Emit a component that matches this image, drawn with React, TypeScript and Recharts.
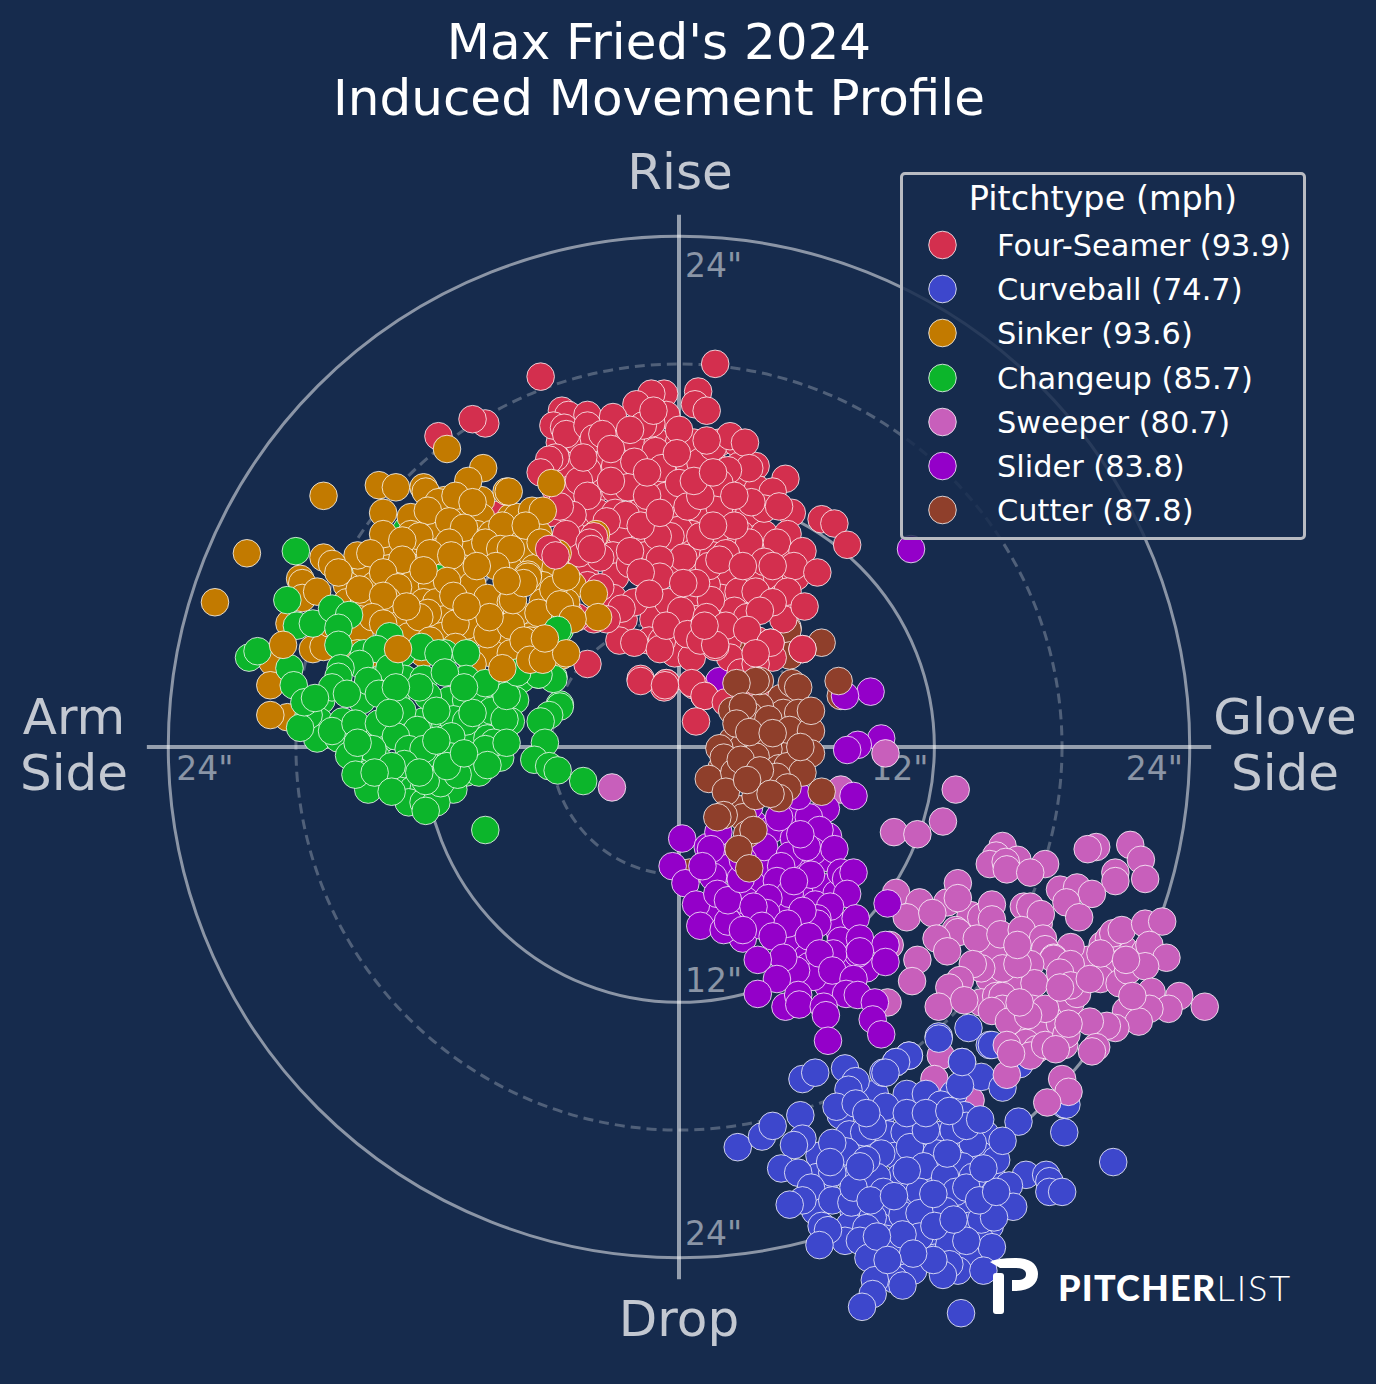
import {
  ScatterChart,
  Scatter,
  XAxis,
  YAxis,
  ReferenceDot,
  ReferenceLine,
} from 'recharts';

type Pitch = [number, number];

const fourSeamerDense: Pitch[] = [
  [-5.6, 14.3], [-4.7, 14.3], [-3.9, 14.3], [-2.8, 14.3], [-2, 14.3], [-1, 14.3], [0, 14.3], [0.7, 14.3], [1.9, 14.3], [2.7, 14.3],
  [-5.2, 13.2], [-4, 13.2], [-3, 13.2], [-1.8, 13.2], [-0.4, 13.2], [0.5, 13.2], [1.7, 13.2], [2.8, 13.2], [3.6, 13.2],
  [-5.8, 12.1], [-5.1, 12.1], [-3.9, 12.1], [-3, 12.1], [-2, 12.1], [-1, 12.1], [0.6, 12.1], [1.4, 12.1], [2.8, 12.1], [3.7, 12.1],
  [-6, 11], [-4.6, 11], [-3.8, 11], [-3, 11], [-1.9, 11], [-0.2, 11], [0.8, 11], [2.8, 11], [3.3, 11], [5.3, 11],
  [-5, 10], [-3.2, 10], [-2.7, 10], [-1.6, 10], [0.6, 10], [2, 10], [2.9, 10], [4, 10], [5.1, 10],
  [-4.8, 9], [-3.1, 9], [-1.6, 9], [0.8, 9], [1.6, 9], [2.9, 9], [3.6, 9], [5, 9],
  [-4.4, 8], [-3, 8], [-1.5, 8], [0, 8], [0.9, 8], [2.3, 8], [3.4, 8], [4.6, 8], [5.5, 8],
  [-5.4, 7], [-3.1, 7], [-1.6, 7], [-1, 7], [0.7, 7], [2, 7], [3.2, 7], [4.8, 7],
  [-4, 6], [-2.6, 6], [-1.2, 6], [0.8, 6], [2, 6], [2.9, 6], [4.9, 6],
  [-2.8, 5], [-1.4, 5], [0.2, 5], [0.9, 5], [2.3, 5], [3.7, 5],
  [-0.2, 4.4], [0.6, 4.2], [2.4, 4.2], [2.9, 3.5],
];

const fourSeamer: Pitch[] = [
  [-6.5, 17.4], [1.7, 18.0], [0.9, 16.7], [0.75, 16.1], [1.3, 15.8], [-0.7, 16.6], [-1.3, 16.6], [-2.0, 16.1],
  [-0.6, 15.6], [-1.3, 15.2], [-1.7, 15.1], [0, 14.9], [-1.2, 15.8], [-5.5, 15.8], [-5.2, 15.6], [-4.3, 15.6],
  [-5.9, 15.1], [-5.4, 15.0], [-5.3, 14.7], [-4.3, 15.1], [-3.1, 15.5], [-4.0, 14.5], [-3.6, 14.7], [-3.2, 14.0],
  [-2.3, 14.9], [-1.1, 13.9], [-2.1, 13.4], [-5.8, 13.6], [-6.1, 13.5], [-6.5, 12.9], [-4.3, 13.0], [-4.7, 12.5],
  [-2.4, 12.2], [-0.8, 13.1], [1.0, 13.4], [1.6, 14.1], [2.4, 14.6], [3.1, 14.3], [1.3, 14.4], [3.3, 13.1],
  [2.3, 13.0], [5.0, 12.6], [4.4, 12.0], [4.0, 11.2], [4.7, 11.3], [3.4, 11.5], [1.9, 11.3], [1.9, 12.4],
  [-0.6, 11.8], [0, 12.4], [-2.5, 10.9], [-3.4, 10.6], [-4.3, 11.8], [-5, 10.9], [6.7, 10.7], [7.3, 10.5],
  [7.9, 9.5], [0, 10.2], [-0.4, 9.9], [-1.0, 9.9], [1.0, 9.9], [3.3, 9.6], [4.6, 9.6], [2.2, 9.1],
  [4.0, 8.7], [5.8, 9.2], [5.4, 8.5], [6.5, 8.2], [-2.3, 8.6], [-2.3, 9.2], [0.2, 8.9], [-0.9, 8.8],
  [-0.9, 8.0], [-2.1, 6.8], [-2.7, 6.5], [-4.3, 7.6], [-3.7, 7.5], [-5.1, 7.7], [-4.8, 6.1], [-3.4, 6.0],
  [-0.5, 6.8], [0.1, 6.4], [1.3, 7.6], [2.8, 7.3], [3.6, 7.3], [1.4, 8.5], [5.1, 7.3], [5.9, 6.6],
  [1.2, 5.7], [2.6, 6.4], [1.5, 6.9], [1.7, 4.7], [-0.8, 5.0], [-2.1, 4.9], [-0.9, 4.6], [4.3, 4.9],
  [5.8, 4.6], [4.4, 4.2], [3.6, 3.9], [-4.3, 3.9], [-1.8, 3.2], [-0.6, 3.0], [0.7, 2.9], [1.2, 2.4],
  [-0.7, 2.8], [-1.5, 11.8], [-1.8, 10.4], [-0.9, 11], [0.4, 11.3], [1, 11.8], [2.6, 11.8], [2.6, 10.4],
  [1.6, 10.4], [1.9, 8.8], [3, 8.5], [4.4, 8.5], [0.8, 7.7], [0.2, 7.7], [-1.8, 8.2], [-1.4, 7.2],
  [1.3, 6.1], [3.2, 6.1], [4.4, 6.8], [3.8, 6.4], [2.2, 5.7], [-0.6, 5.7], [0.4, 5.3], [3.2, 5.5],
  [1, 5], [-3.7, 8.9], [-4.7, 9.1], [-5.3, 10], [-5.6, 11.3], [-4.5, 13.6], [-3.2, 12.5], [-1.5, 12.9],
  [-0.1, 13.8], [0.7, 12.5], [1.6, 12.9], [-8.6, 10.9], [-11.3, 14.6], [-9.1, 15.2], [-9.7, 15.4],
  [-5.2, 6.3], [4.3, 4.9], [1.7, 4.8], [1.2, 5.7], [3.6, 4.4], [5.8, 4.6], [-0.6, 3], [0.6, 3], [1.2, 2.4],
  [0.8, 1.2], [2.2, 2.1], [3.6, 2.4], [-1.8, 3.1], [-0.66, 2.9],
];

const fourSeamerTop: Pitch[] = [[-4, 9.9], [-4.2, 9.6], [-4.1, 9.3], [-6.1, 9.3], [-5.8, 9.0]];

const curveballDense: Pitch[] = [
  [9.2, -16.3], [10.7, -16.3], [12.9, -16.3],
  [7.6, -17.3], [9.5, -17.3], [11.2, -17.3], [13.4, -17.3],
  [8, -18.2], [9.8, -18.2], [11.4, -18.2], [12.4, -18.2], [14.4, -18.2],
  [6.6, -19.2], [8.7, -19.2], [10.2, -19.2], [11.2, -19.2], [13, -19.2], [14.2, -19.2],
  [6.5, -20.2], [8, -20.2], [10.4, -20.2], [11.8, -20.2], [12.8, -20.2], [14.7, -20.2],
  [6.9, -21], [8.7, -21], [10.9, -21], [12.4, -21], [15, -21],
  [6.4, -21.8], [8.2, -21.8], [9.8, -21.8], [11.9, -21.8], [13.4, -21.8],
  [8, -22.5], [9.4, -22.5], [11, -22.5], [13.6, -22.5], [14.6, -22.5],
  [7.8, -23.2], [10.4, -23.2], [12, -23.2], [14.2, -23.2],
  [9.5, -24], [10.8, -24], [12, -24], [13.6, -24],
  [9.6, -24.6], [11, -24.6], [13.1, -24.6],
];

const curveball: Pitch[] = [
  [2.76, -18.8], [3.9, -18.3], [4.4, -17.8], [5.7, -17.3], [5.8, -15.6], [6.4, -15.3], [7.8, -15.1], [8.3, -15.7],
  [7.96, -16.1], [7.4, -16.9], [8.3, -16.75], [9.7, -16.9], [10.2, -14.8], [10.8, -14.5], [9.6, -15.3], [11.6, -16.3],
  [12.2, -13.6], [13.6, -13.2], [12.3, -16.8], [13.3, -14.8], [14.2, -15.5], [13.2, -15.9], [15.2, -16], [14.6, -14],
  [15.95, -17.6], [18.1, -18.1], [18.1, -16.8], [20.4, -19.5], [16.3, -20.1], [17.25, -20.1], [17.4, -20.4], [17.4, -20.9],
  [18, -20.9], [15.5, -20.6], [15.7, -21.6], [14.9, -19.4], [15.2, -18.5], [13.8, -18.6], [12.9, -18], [13.5, -17.8],
  [14.15, -17.5], [10.6, -18.1], [8.7, -18.1], [9.1, -17.8], [9.5, -19.1], [10.85, -18.8], [12.1, -19.1], [11.5, -19.7],
  [13.3, -19.7], [7.85, -19], [7.2, -18.6], [5.8, -18.4], [5.4, -18.7], [4.8, -19.8], [5.6, -20], [7.2, -20],
  [6.2, -20.7], [5.8, -21.3], [5.2, -21.5], [7.2, -21.3], [8.1, -21.4], [9.3, -20.2], [9.6, -20.9], [11.3, -20.9],
  [12.5, -20.2], [13, -20.9], [13.8, -20.2], [13.5, -20.7], [12.5, -21.8], [14.2, -22.2], [14.8, -22.1], [10.5, -22],
  [11.3, -21.9], [9.1, -22.1], [8.8, -22.6], [9.7, -23.1], [10.3, -23.7], [11.3, -23], [12.6, -22.6], [12.7, -23.4],
  [12.7, -24.3], [14.7, -23.5], [14.3, -24.6], [13.5, -23.2], [12.4, -24.8], [6.7, -22.5], [7, -22.7], [6.6, -23.4],
  [8.5, -23.2], [8.9, -24], [10.1, -25], [10.5, -25.3], [9.2, -25.05], [9.1, -25.7], [8.6, -26.3], [13.25, -26.6],
  [12, -22.5], [10.5, -22.9], [9.3, -23], [10.7, -19.9], [12.6, -19.1], [11.6, -18], [8.8, -19.4], [8.2, -20.7],
  [11.95, -24.1], [11, -23.8], [9.8, -24.1], [9, -21.3], [10.1, -21.1], [11.95, -21], [14.1, -21.3], [12.9, -22.2],
  [14.9, -20.9], [14.3, -19.8], [10.7, -17.2], [11.6, -17.2], [12.7, -17.1], [8.8, -17.2], [7.1, -19.5], [8.5, -19.7],
  [12.2, -13.7], [14.7, -14], [13.3, -14.8], [10.8, -14.5], [10.2, -14.8], [9.7, -15.3], [16, -14.9], [18.2, -16.8],
];

const sinkerDense: Pitch[] = [
  [-11, 11.6], [-10.6, 11.6], [-9.3, 11.6],
  [-12.6, 10.8], [-11, 10.8], [-10.2, 10.8], [-9.3, 10.8], [-7.9, 10.8], [-7.6, 10.8],
  [-12.6, 10], [-11.4, 10], [-9.5, 10], [-8.8, 10], [-7.9, 10], [-6.6, 10],
  [-14, 9.2], [-12.3, 9.2], [-11.2, 9.2], [-9.8, 9.2], [-7.2, 9.2], [-6.2, 9.2],
  [-14.7, 8.4], [-13.6, 8.4], [-12.4, 8.4], [-10.2, 8.4], [-8, 8.4], [-6.8, 8.4], [-5.8, 8.4],
  [-15.6, 7.6], [-14.3, 7.6], [-12.6, 7.6], [-11.6, 7.6], [-9.7, 7.6], [-6.4, 7.6], [-5, 7.6],
  [-15.6, 6.8], [-14.8, 6.8], [-12, 6.8], [-11.4, 6.8], [-8.4, 6.8], [-6.4, 6.8], [-5.3, 6.8],
  [-15, 6], [-13, 6], [-11, 6], [-9.4, 6], [-8.3, 6], [-6.4, 6],
  [-15, 5.2], [-12.7, 5.2], [-11.2, 5.2], [-9.9, 5.2], [-8.4, 5.2], [-7, 5.2], [-6, 5.2],
  [-14.3, 4.4], [-12, 4.4], [-10, 4.4], [-8.8, 4.4], [-7.9, 4.4], [-6.6, 4.4],
];

const sinker: Pitch[] = [
  [-20.3, 9.1], [-21.8, 6.8], [-16.7, 11.8], [-10.9, 14.0], [-9.2, 13.1], [-9.9, 12.5], [-14.1, 12.3], [-13.3, 12.2],
  [-12, 12.2], [-11.9, 12], [-11.3, 11.5], [-10.5, 11.8], [-9.7, 11.5], [-8.1, 12], [-6, 12.4], [-6.9, 11.1],
  [-6.4, 11.1], [-11.8, 11.1], [-13.9, 11], [-13.9, 10], [-8.3, 10.4], [-10.8, 10.6], [-10.1, 10.3], [-12.2, 9.9],
  [-7.2, 10.4], [-13, 9.7], [-10.8, 9.6], [-9.1, 9.6], [-8.4, 9.3], [-7.9, 9.3], [-11.7, 9.1], [-10.7, 9],
  [-13, 8.8], [-15.1, 9], [-14.5, 9.1], [-16.7, 8.9], [-16.3, 8.6], [-16, 8.2], [-8.6, 8.5], [-9.5, 8.5],
  [-7.1, 8.1], [-10.9, 7.8], [-13.9, 8.2], [-15, 7.4], [-17.8, 7.9], [-17.7, 7.7], [-13.2, 7.5], [-13.7, 6.9],
  [-13.9, 7.1], [-10.6, 7.1], [-9, 7], [-5.9, 7.4], [-4, 7.2], [-7.9, 6.8], [-17.7, 7], [-17, 7.3],
  [-5.6, 6.5], [-7.6, 6.3], [-6.6, 6.3], [-11.8, 6.3], [-12.2, 6.1], [-14.4, 6.1], [-10, 5.7], [-9, 5.3],
  [-10.5, 5.8], [-13.9, 5.8], [-7.9, 5.7], [-19.1, 4], [-17.2, 4.6], [-16.7, 4.7], [-19.2, 2.9], [-18.4, 1.4],
  [-18.3, 5.8], [-16.4, 5.8], [-10.5, 4.7], [-9.7, 3.9], [-7.8, 3], [-11.7, 5], [-15.1, 4.4], [-3.8, 6.1],
  [-5.5, 4.3], [-5.6, 6.7], [-8, 12], [-7.1, 8], [-7.8, 6.9], [-7, 5], [-7.3, 7.7], [-8.1, 7.8],
  [-12, 8.3], [-12.8, 6.6], [-8.9, 6.1], [-5.3, 8], [-5, 6], [-7.3, 5], [-9.98, 6.6], [-5.7, 9.1],
  [-6.5, 9.6], [-3.9, 10],
];

const sinkerTop: Pitch[] = [
  [-13.2, 4.6], [-8.3, 3.7], [-7, 4.1], [-6.4, 4.1], [-5.3, 4.4], [-6.3, 5.1], [-18.6, 4.8], [-19.2, 1.5],
];

const changeupLow: Pitch[] = [
  [-12.8, 10.2], [-15.3, 8.1], [-11.3, 8.2], [-10.1, 6.8], [-10.4, 6.6], [-5.6, 5.5], [-5.9, 3.3], [-6.6, 3.4],
  [-7.9, 2.5], [-5.6, 2],
];

const changeupDense: Pitch[] = [
  [-13, 4.4], [-14.8, 4.4], [-11, 4.4], [-10, 4.4],
  [-14, 3.2], [-12.9, 3.2], [-12, 3.2], [-10, 3.2], [-8.4, 3.2], [-7.4, 3.2],
  [-16.8, 2.2], [-14.9, 2.2], [-13.3, 2.2], [-10.8, 2.2], [-10, 2.2], [-9, 2.2], [-7.7, 2.2],
  [-16.9, 1.2], [-15.8, 1.2], [-12, 1.2], [-11, 1.2], [-9.5, 1.2], [-7.9, 1.2],
  [-17, 0.4], [-16, 0.4], [-14.8, 0.4], [-13.9, 0.4], [-12.7, 0.4], [-11, 0.4], [-9.9, 0.4], [-9, 0.4],
  [-15, -0.5], [-14.2, -0.5], [-11.6, -0.5], [-10.5, -0.5], [-9.6, -0.5], [-8.4, -0.5],
  [-15, -1.2], [-14.5, -1.2], [-13, -1.2], [-12.5, -1.2], [-11, -1.2], [-10, -1.2], [-9.4, -1.2],
  [-14.6, -2], [-13, -2], [-12.5, -2], [-12, -2], [-11, -2], [-10.6, -2],
  [-12.7, -2.6], [-12, -2.6], [-11.4, -2.6],
];

const changeup: Pitch[] = [
  [-18, 9.2], [-20.2, 4.2], [-19.8, 4.5], [-18.4, 6.9], [-17.95, 5.7], [-17.2, 5.8], [-16.3, 6.5], [-15.5, 6.2],
  [-16, 5.6], [-16, 4.8], [-13.6, 5.2], [-14.2, 4.6], [-12.1, 4.7], [-11.3, 4.4], [-11, 3.5], [-13.6, 3.7],
  [-15, 3.9], [-15.9, 3.7], [-16, 3.3], [-16.3, 2.8], [-18.3, 3.7], [-18.1, 2.9], [-14.6, 3.1], [-15.6, 2.5],
  [-14.1, 2.5], [-17.4, 1.5], [-17.8, 0.9], [-17.6, 2.1], [-17.1, 2.3], [-16.3, 0.75], [-15.2, 1.1], [-14.1, 1.1],
  [-13, 1.7], [-11.8, 2.4], [-12.2, 2.8], [-12.3, 0.8], [-13.3, 0.5], [-10.6, 1.3], [-10, 1.2], [-9.4, 2.6],
  [-8.8, 1.7], [-8.2, 1.3], [-8.1, 2.4], [-8.7, 0.2], [-9.1, -0.1], [-8.1, 0.2], [-10.7, 0.5], [-14.4, -0.1],
  [-15.5, -0.4], [-12.7, -0.1], [-12, -0.1], [-12.9, -0.8], [-13.5, -0.9], [-15.2, -1.3], [-14.3, -1.2], [-13.5, -2.1],
  [-11.9, -3], [-11.2, -1.7], [-10.4, -1.3], [-11.9, -1.6], [-10.7, -0.45], [-9, -0.85], [-10.9, -0.9], [-9.1, -3.9],
  [-5.6, 1.9], [-6.1, 1.5], [-6.5, 1.2], [-6.3, 0.2], [-6.8, -0.6], [-6.1, -0.9], [-5.7, -1.1], [-4.5, -1.6],
  [-5.9, 3.2], [-6.6, 3.4], [-7.6, 3.5], [-5.7, 5.5], [-9.1, 3], [-13.3, 2.8], [-11.4, 1.7], [-9.7, 1.6],
  [-10.1, 2.8], [-13.6, 1.6], [-15.1, 0.2], [-11.4, 0.3], [-10.1, -0.3], [-12.2, -1.2],
];

const sweeperLow: Pitch[] = [
  [12.3, -14.5], [12, -15.6], [13.7, -16.6], [9.9, -9.3], [9.8, -12], [7.6, -8.9], [7.6, -2],
];

const sweeperDense: Pitch[] = [
  [13.7, -7.9], [14.2, -8], [16.9, -8.3], [15.6, -9.7], [14.8, -9.5], [19.2, -10], [20.4, -10.1],
  [20.9, -9.5], [21.9, -9.6], [21, -12.4], [15.9, -11], [14.6, -10.9], [16.1, -13.4],
  [16.9, -13.2], [17.9, -13], [16.3, -13.9], [14.2, -12],
];

const sweeper: Pitch[] = [
  [-3.15, -1.9], [13, -2], [12.4, -3.5], [10.1, -4], [11.2, -4.1], [15.2, -4.65], [14.9, -5.1], [14.6, -5.5],
  [15.9, -5.3], [17.2, -5.5], [15.35, -5.4], [15.4, -5.75], [16.5, -5.9], [19.6, -4.7], [19.2, -4.8], [21.2, -4.6],
  [21.7, -5.3], [20.5, -5.9], [20.5, -6.3], [21.9, -6.2], [17.9, -6.7], [18.7, -6.6], [19.4, -6.9], [18.2, -7.3],
  [18.8, -8], [10.2, -6.85], [11.3, -7.3], [10.7, -8], [12.6, -7.3], [13.1, -6.4], [13.1, -7.1], [11.9, -7.8],
  [14.7, -7.4], [14.7, -8.1], [16.2, -7.5], [16.5, -7.5], [17, -7.85], [13, -8.6], [13.1, -8.7], [12.1, -9],
  [12.6, -9.6], [13.99, -9], [15.1, -8.8], [16.1, -8.6], [17.1, -9], [18.4, -9.4], [17.2, -9.5], [17.6, -9.9],
  [17.6, -9.95], [16.5, -10.2], [15.2, -10.4], [14.2, -10.4], [13.8, -10.2], [11.2, -10], [10.95, -11], [13.2, -10.95],
  [12.7, -11.3], [12.2, -12.2], [13.4, -11.9], [16.7, -11.1], [18.4, -10.2], [17.9, -10.6], [19.8, -10.9], [20.7, -11.1],
  [19.9, -9.3], [20.2, -9], [20.4, -8.75], [20.8, -8.6], [21.9, -8.3], [22.7, -8.2], [22.1, -9.3], [22.9, -9.9],
  [19.8, -9.7], [21.1, -10.5], [21.9, -10.3], [21, -10], [18.4, -12], [18.7, -11.6], [18.4, -11.2], [22.2, -11.5],
  [23.5, -11.7], [24.7, -12.2], [23, -12.3], [22.1, -12.3], [21.6, -12.9], [20.5, -13.2], [20.1, -13.1],
  [19.3, -12.9], [14.9, -11.7], [15.2, -11.7], [15.2, -12.3], [14.7, -12.4], [15.5, -12.9], [16.6, -12.3], [17.2, -12.3],
  [16.4, -12.6], [15.4, -14], [16.8, -14.2], [16.5, -14.5], [17.2, -14], [18.1, -14], [18.2, -13.5], [19.6, -14.1],
  [19.4, -14.3], [17.7, -14.2], [15.4, -15.4], [18, -15.6], [18.3, -16.2], [17.3, -16.7], [15.6, -14.4], [15.9, -10.2],
  [17.9, -11.3], [16, -12], [15.9, -9.3], [19.3, -10.9], [21.3, -11.7], [18.3, -13],
];

const sweeperTop: Pitch[] = [[9.7, -0.3]];

const sliderLow: Pitch[] = [[1.9, 3.1]];

const sliderDense: Pitch[] = [
  [3.5, -3.6], [5.4, -3.2], [4.3, -3.9], [2.6, -4.9], [3.3, -5], [2.2, -5.7], [3.8, -5.7], [5.4, -4.3],
  [6.9, -5.2], [5.7, -5.4], [7, -4.2], [3.4, -6.4], [6.2, -6.8], [6.9, -6.6], [7.4, -6.9], [2.4, -7.9],
  [3.1, -7.2], [4.8, -7.6], [6.4, -7.4], [5.4, -8.5], [7.4, -8.4], [7.6, -9.1], [5.4, -9.4], [6, -9.9],
  [6.1, -10.3], [7, -11.2], [6.3, -10.8], [5.5, -10.5], [8.8, -10.4], [7.8, -10.2], [1.6, -6.1], [1.2, -7.8],
  [1.7, -8], [3, -9],
];

const slider: Pitch[] = [
  [10.9, 9.3], [9, 2.6], [7.8, 2.4], [9.5, 0.4], [8.4, 0.1], [7.9, -0.14], [8.2, -2.3], [6.9, -2.9],
  [6.1, -3.3], [6.6, -3.9], [4.7, -3.3], [5.6, -2.3], [0.15, -4.3], [1.35, -4.7], [1.85, -4], [1.5, -4.8],
  [-0.3, -5.6], [0.3, -6.4], [1.1, -5.6], [0.8, -7.4], [1, -8.4], [2.1, -8.6], [2.3, -8.2], [1.8, -6.9],
  [2.3, -7.2], [2.9, -6.2], [4, -4.7], [5.2, -5.1], [6.3, -4.9], [7.3, -4.8], [6, -4.7], [4.8, -5.6],
  [6.2, -6], [4.6, -6.3], [5.2, -6.9], [4.2, -7.1], [7.6, -5.9], [7.85, -6.2], [8.2, -5.9], [7.9, -6.9],
  [7.1, -7.5], [6.5, -8.05], [6.5, -8.3], [5.8, -7.7], [4.1, -7.8], [3.5, -7.5], [3.9, -8.4], [5.1, -8.3],
  [3, -8.6], [4.4, -8.9], [6.1, -8.9], [8.3, -8.05], [8.5, -9], [8.4, -9.7], [7.25, -9.7], [9.7, -9.3],
  [9.7, -10.1], [6.6, -9.7], [4.9, -9.9], [3.7, -10], [4.6, -10.9], [7.2, -10.5], [8.2, -10.9], [7.85, -11.6],
  [8.4, -11.65], [9.2, -12], [9.1, -12.8], [9.5, -13.5], [3.7, -11.6], [5, -12.2], [5.6, -11.65], [5.65, -12.1],
  [6.8, -12.2], [6.9, -12.6], [7, -13.8], [3.3, -2.8], [5.7, -4.1], [3, -5.3], [5.4, -6.3], [9.8, -7.35],
  [8.5, -9.6],
];

const cutterLow: Pitch[] = [
  [6.7, 4.9], [3.1, 5], [5.1, 5.6], [5.3, 4.6], [4.2, 7], [5.1, 5.5], [3, 5], [0.7, 4.8],
  [5.2, 4.3], [0.5, -5.9], [5.1, -3.8], [7.6, 2.4],
];

const cutterDense: Pitch[] = [
  [2.5, 0.3], [3, 0], [2.5, 1.7], [4.8, 2.3], [5, 1.5], [4.6, 0.1], [5.3, -0.3], [2, -1],
  [3.1, -0.9], [2.7, -2.9], [3, -3.3], [4.9, 1.6], [3.8, 1.9], [3.7, -0.7],
];

const cutter: Pitch[] = [
  [7.5, 3.1], [3.8, 3.1], [3.6, 3.1], [5.3, 3], [2.7, 3], [5.6, 2.8], [5.6, 1.6], [3.3, 1.5],
  [4.2, 1.3], [3, 1.9], [2.7, 1.1], [5.2, 0.8], [6.2, 0.75], [6.2, 1.7], [3.7, 0.3], [1.9, -0.06],
  [2.1, -0.5], [4.2, -0.1], [6.2, -0.3], [3.6, -0.45], [4.7, -1], [5.1, -0.9], [5.8, -1.2], [1.4, -1.5],
  [2.6, -1.2], [2.2, -2.1], [4, -1.8], [4.6, -1.4], [5.1, -1.9], [3.6, -2.3], [4.7, -2.4], [6.7, -2.1],
  [2.1, -3.2], [3.2, -4.1], [3.5, -3.9], [2.8, -4.8], [3.3, -5.7], [1.8, -3.3], [3.3, 0.7], [4.4, 0.65],
  [2.9, -0.6], [5.7, 0], [3.8, -1.1], [3.2, -1.55], [4.3, -2.2],
];

const legendNames = [
  'Four-Seamer (93.9)', 'Curveball (74.7)', 'Sinker (93.6)', 'Changeup (85.7)',
  'Sweeper (80.7)', 'Slider (83.8)', 'Cutter (87.8)',
];
const legendColors = ['#D32F4E', '#3D47CC', '#C27A00', '#0CB52B', '#C85FBB', '#9400C9', '#8F3F2B'];
const [RED, BLUE, ORANGE, GREEN, PINK, PURPLE, BROWN] = legendColors;

const BG = '#162B4D';
const FONT = '"DejaVu Sans", sans-serif';
const PX_PER_INCH = 21.28;

const solidRings = [12, 24];
const dashedRings = [6, 18];

// tick label value spot on the ring + how far the text sits from it
const ringLabels: { x: number; y: number; text: string; dx: number; dy: number; anchor: string }[] = [
  { x: 0, y: 24, text: '24"', dx: 6, dy: 41, anchor: 'start' },
  { x: 24, y: 0, text: '24"', dx: -7, dy: 33, anchor: 'end' },
  { x: -24, y: 0, text: '24"', dx: 8, dy: 33, anchor: 'start' },
  { x: 0, y: -24, text: '24"', dx: 6, dy: -13, anchor: 'start' },
  { x: 12, y: 0, text: '12"', dx: -6, dy: 33, anchor: 'end' },
  { x: 0, y: -12, text: '12"', dx: 6, dy: -10, anchor: 'start' },
  { x: 0, y: 12, text: '12"', dx: 6, dy: 41, anchor: 'start' },
  { x: -12, y: 0, text: '12"', dx: 8, dy: 33, anchor: 'start' },
];

const layers: { name: string; data: Pitch[]; color: string }[] = [
  { name: 'cutterLow', data: cutterLow, color: BROWN },
  { name: 'sliderLow', data: sliderLow, color: PURPLE },
  { name: 'fourSeamerDense', data: fourSeamerDense, color: RED },
  { name: 'fourSeamer', data: fourSeamer, color: RED },
  { name: 'sweeperLow', data: sweeperLow, color: PINK },
  { name: 'curveballDense', data: curveballDense, color: BLUE },
  { name: 'curveball', data: curveball, color: BLUE },
  { name: 'sweeperDense', data: sweeperDense, color: PINK },
  { name: 'sweeper', data: sweeper, color: PINK },
  { name: 'sliderDense', data: sliderDense, color: PURPLE },
  { name: 'slider', data: slider, color: PURPLE },
  { name: 'sweeperTop', data: sweeperTop, color: PINK },
  { name: 'cutterDense', data: cutterDense, color: BROWN },
  { name: 'cutter', data: cutter, color: BROWN },
  { name: 'changeupLow', data: changeupLow, color: GREEN },
  { name: 'sinkerDense', data: sinkerDense, color: ORANGE },
  { name: 'sinker', data: sinker, color: ORANGE },
  { name: 'fourSeamerTop', data: fourSeamerTop, color: RED },
  { name: 'changeupDense', data: changeupDense, color: GREEN },
  { name: 'changeup', data: changeup, color: GREEN },
  { name: 'sinkerTop', data: sinkerTop, color: ORANGE },
];

const toPoints = (list: Pitch[]) => list.map(([x, y]) => ({ x, y }));

function PitchDot(props: any) {
  return <circle cx={props.cx} cy={props.cy} r={13.8} fill={props.color} stroke="#FFFFFF" strokeOpacity={0.85} strokeWidth={0.9} />;
}

function PitchLegend() {
  return (
    <div
      style={{
        position: 'absolute', left: 900, top: 172, width: 406, height: 368, boxSizing: 'border-box',
        border: '3px solid #B8BBC2', borderRadius: 5, background: 'rgba(22,43,77,0.85)', color: '#fff', fontFamily: FONT,
      }}
    >
      <div style={{ position: 'absolute', left: 0, width: '100%', top: 4, textAlign: 'center', fontSize: 33.5, lineHeight: '40px' }}>
        Pitchtype (mph)
      </div>
      {legendNames.map((name, i) => (
        <div key={name} style={{ position: 'absolute', left: 0, top: 50 + i * 44.2, height: 40, width: '100%' }}>
          <svg width={60} height={40} style={{ position: 'absolute', left: 25, top: 0 }}>
            <circle cx={14.5} cy={20} r={13.8} fill={legendColors[i]} stroke="#fff" strokeOpacity={0.85} strokeWidth={0.9} />
          </svg>
          <span style={{ position: 'absolute', left: 94, top: 0, fontSize: 30.4, lineHeight: '41px', whiteSpace: 'nowrap' }}>{name}</span>
        </div>
      ))}
    </div>
  );
}

function Logo() {
  return (
    <svg width={1376} height={1384} style={{ position: 'absolute', left: 0, top: 0, pointerEvents: 'none' }}>
      <path
        fill="#fff"
        d="M990 1262 Q997 1258 1015 1258 C1030 1258 1038 1264 1038 1274 C1038 1284 1030 1291 1015 1291 L1012 1291 L1012 1280 L1017 1280 C1023 1280 1026 1278 1026 1274 C1026 1270 1022 1268 1015 1268 L1000 1268 Z"
      />
      <rect x={993} y={1273} width={11} height={41} rx={3} fill="#fff" />
      <text x={1058} y={1301} fontFamily="Lato, sans-serif" fontSize={36} fill="#fff" letterSpacing={1.2}>
        <tspan fontWeight={900}>PITCHER</tspan>
        <tspan fontWeight={300} letterSpacing={2}>LIST</tspan>
      </text>
    </svg>
  );
}

function Title({ text, cx, y, size, color }: { text: string; cx: number; y: number; size: number; color: string }) {
  return (
    <div
      style={{
        position: 'absolute', left: cx - 450, width: 900, top: y, textAlign: 'center', fontFamily: FONT,
        fontSize: size, lineHeight: `${size * 1.2}px`, color,
      }}
    >
      {text}
    </div>
  );
}

export default function App() {
  return (
    <div style={{ position: 'absolute', left: 0, top: 0, width: 1376, height: 1384, background: BG, overflow: 'hidden' }}>
      {/* domain runs past the 25" axes so the low curveballs still fit */}
      <ScatterChart width={1376} height={1384} margin={{ left: 83, right: 101, top: 151, bottom: 41 }}>
        <XAxis type="number" dataKey="x" domain={[-28, 28]} hide />
        <YAxis type="number" dataKey="y" domain={[-28, 28]} hide />
        {dashedRings.map((v) => (
          <ReferenceDot key={v} x={0} y={0} r={v * PX_PER_INCH} fill="none" stroke="#FFFFFF" strokeOpacity={0.25} strokeWidth={3} strokeDasharray="10 6" />
        ))}
        {solidRings.map((v) => (
          <ReferenceDot key={v} x={0} y={0} r={v * PX_PER_INCH} fill="none" stroke="#FFFFFF" strokeOpacity={0.5} strokeWidth={3} />
        ))}
        <ReferenceLine segment={[{ x: 0, y: -25 }, { x: 0, y: 25 }]} stroke="#FFFFFF" strokeOpacity={0.55} strokeWidth={4} />
        <ReferenceLine segment={[{ x: -25, y: 0 }, { x: 25, y: 0 }]} stroke="#FFFFFF" strokeOpacity={0.55} strokeWidth={4} />
        {ringLabels.map((l) => (
          <ReferenceDot
            key={`${l.x}_${l.y}`}
            x={l.x}
            y={l.y}
            shape={(p: any) => (
              <text x={p.cx + l.dx} y={p.cy + l.dy} textAnchor={l.anchor as any} fontFamily={FONT} fontSize={33} fill="#FFFFFF" fillOpacity={0.5}>
                {l.text}
              </text>
            )}
          />
        ))}
        {layers.map((layer) => (
          <Scatter
            key={layer.name}
            name={layer.name}
            data={toPoints(layer.data)}
            isAnimationActive={false}
            shape={(p: any) => <PitchDot cx={p.cx} cy={p.cy} color={layer.color} />}
          />
        ))}
      </ScatterChart>
      <Title text="Max Fried's 2024" cx={659} y={12} size={50} color="#fff" />
      <Title text="Induced Movement Profile" cx={659} y={68} size={50} color="#fff" />
      <Title text="Rise" cx={680} y={142} size={50} color="#C3C8D1" />
      <Title text="Drop" cx={679} y={1289} size={50} color="#C3C8D1" />
      <Title text="Arm" cx={74} y={687} size={50} color="#C3C8D1" />
      <Title text="Side" cx={74} y={743} size={50} color="#C3C8D1" />
      <Title text="Glove" cx={1285} y={687} size={50} color="#C3C8D1" />
      <Title text="Side" cx={1285} y={743} size={50} color="#C3C8D1" />
      <PitchLegend />
      <Logo />
    </div>
  );
}
